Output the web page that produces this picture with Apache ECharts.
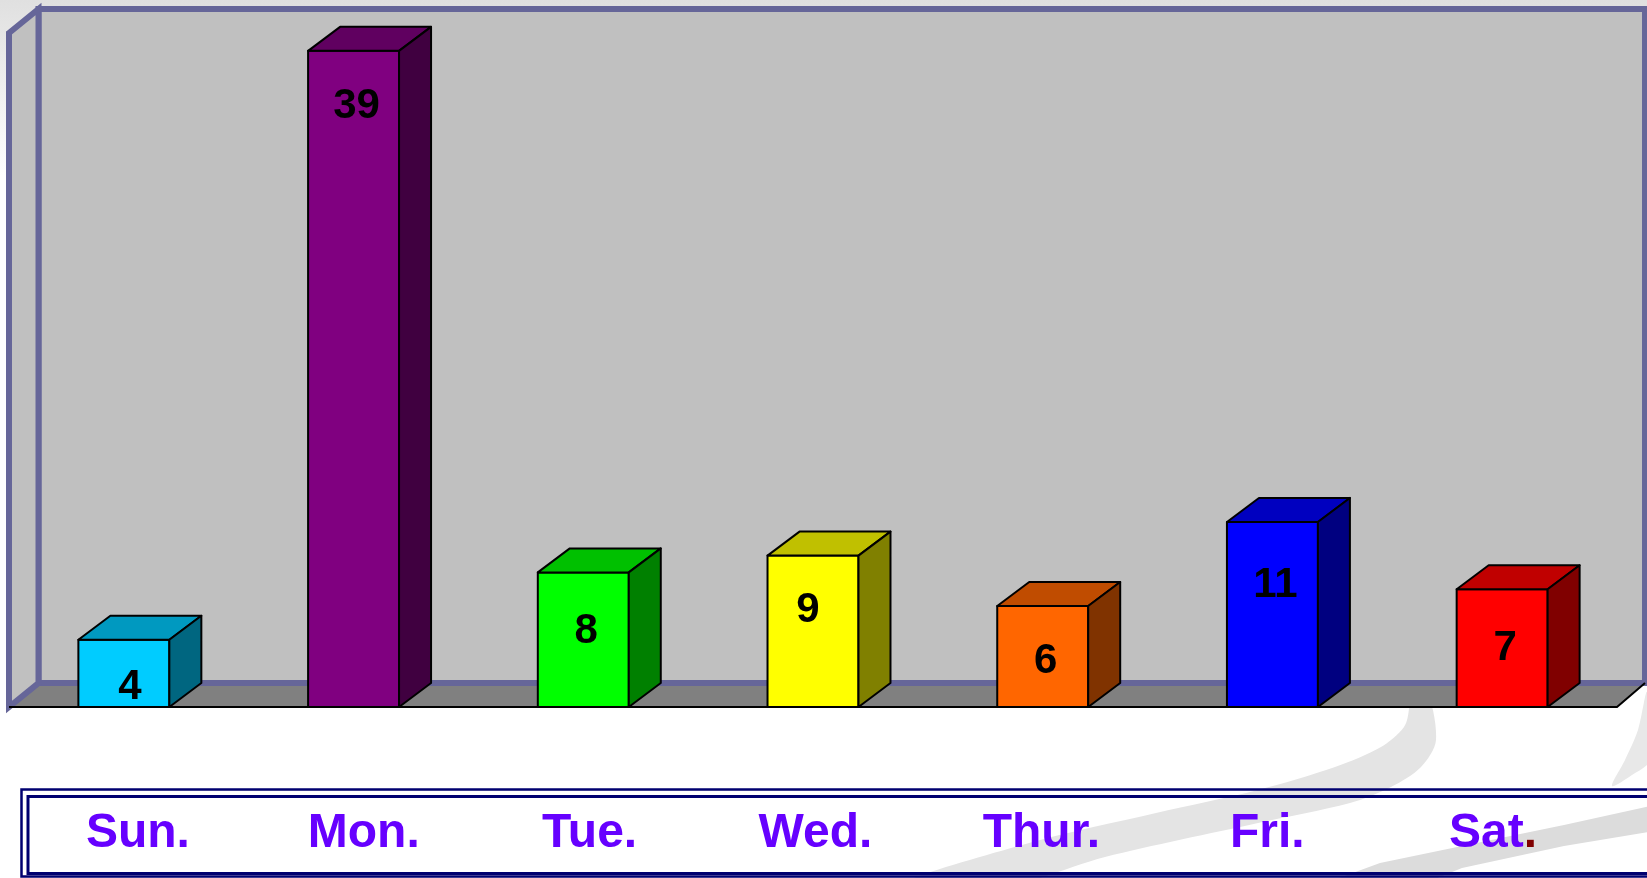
<!DOCTYPE html>
<html>
<head>
<meta charset="utf-8">
<title>week chart</title>
<script src="https://cdn.jsdelivr.net/npm/echarts@6/dist/echarts.min.js"></script>
<style>
  html, body { margin: 0; padding: 0; background: #fff; }
  #main { width: 1647px; height: 878px; }
</style>
</head>
<body>
<div id="main"></div>
<script>
// data
var days = ['Sun.', 'Mon.', 'Tue.', 'Wed.', 'Thur.', 'Fri.', 'Sat.'];
var counts = [4, 39, 8, 9, 6, 11, 7];
// bar face colours: front, top (darker), side (darkest)
var frontColors = ['#00CCFF', '#800080', '#00FF00', '#FFFF00', '#FF6600', '#0000FF', '#FF0000'];
var topColors = ['#0099C0', '#600060', '#00C000', '#C0C000', '#C04C00', '#0000C0', '#C00000'];
var sideColors = ['#006680', '#400040', '#008000', '#808000', '#803300', '#000080', '#800000'];
// where the number sits inside each bar (px below the top / px from centre)
var labelDrop = [48, 56, 59, 55, 55, 63, 59];
var labelShift = [6, 3, 3, -5, 3, 3, 3];

var chart = echarts.init(document.getElementById('main'));

var FONT = '"Liberation Sans", Arial, sans-serif';
var wallColor = '#666699';

// 3d bar: front + top + side face
function renderBar(params, api) {
  var i = api.value(0);
  var v = api.value(1);
  var base = api.coord([i, 0]);
  var top = api.coord([i, v]);
  var bw = api.size([1, 0])[0] * 0.396;
  var x0 = base[0] - bw / 2;
  var x1 = base[0] + bw / 2;
  var dx = 32, dy = -24;
  var line = { stroke: '#000', lineWidth: 2, lineJoin: 'round' };
  return {
    type: 'group',
    children: [
      {
        type: 'polygon',
        shape: { points: [[x0, top[1]], [x1, top[1]], [x1, base[1]], [x0, base[1]]] },
        style: Object.assign({ fill: frontColors[i] }, line)
      },
      {
        type: 'polygon',
        shape: { points: [[x0, top[1]], [x0 + dx, top[1] + dy], [x1 + dx, top[1] + dy], [x1, top[1]]] },
        style: Object.assign({ fill: topColors[i] }, line)
      },
      {
        type: 'polygon',
        shape: { points: [[x1, top[1]], [x1 + dx, top[1] + dy], [x1 + dx, base[1] + dy], [x1, base[1]]] },
        style: Object.assign({ fill: sideColors[i] }, line)
      },
      {
        type: 'text',
        x: base[0] + labelShift[i],
        y: top[1] + labelDrop[i],
        style: {
          text: String(v),
          fill: '#000',
          font: 'bold 42px ' + FONT,
          align: 'center',
          verticalAlign: 'middle'
        }
      }
    ]
  };
}

chart.setOption({
  animation: false,
  graphic: [
    // page background
    {
      type: 'rect', z: -100,
      shape: { x: 0, y: 0, width: 1647, height: 878 },
      style: {
        fill: {
          type: 'linear', x: 0, y: 0, x2: 0, y2: 1,
          colorStops: [{ offset: 0, color: '#e0e0e0' }, { offset: 0.2, color: '#ffffff' }]
        }
      }
    },
    // grey swooshes bottom right
    {
      type: 'polygon', z: -90,
      shape: {
        smooth: 0.3,
        points: [[1407, 690], [1409, 708], [1404, 727], [1381, 747], [1335, 767], [1258, 790], [1156, 813],
          [1029, 843], [900, 885], [1010, 885], [1105, 857], [1258, 823], [1350, 803], [1391, 787],
          [1421, 767], [1436, 740], [1426, 690]]
      },
      style: { fill: '#e4e4e4' }
    },
    {
      type: 'polygon', z: -90,
      shape: {
        points: [[1660, 804], [1564, 825], [1462, 846], [1380, 863], [1320, 885], [1420, 885],
          [1462, 868], [1564, 846], [1660, 830]]
      },
      style: { fill: '#dcdcdc' }
    },
    {
      type: 'polygon', z: -90,
      shape: {
        smooth: 0.3,
        points: [[1647, 692], [1638, 730], [1625, 760], [1612, 786], [1632, 775], [1650, 760]]
      },
      style: { fill: '#e8e8e8' }
    },
    // floor
    {
      type: 'polygon', z: -12,
      shape: { points: [[9, 707], [38.5, 683], [1645, 683], [1617, 707]] },
      style: { fill: '#808080' }
    },
    // back wall
    {
      type: 'rect', z: -11,
      shape: { x: 38.5, y: 9, width: 1606.5, height: 674 },
      style: { fill: '#C0C0C0', stroke: wallColor, lineWidth: 6 }
    },
    // left wall
    {
      type: 'polygon', z: -10,
      shape: { points: [[9, 33], [38.5, 9], [38.5, 683], [9, 707]] },
      style: { fill: '#C0C0C0', stroke: wallColor, lineWidth: 6, lineJoin: 'miter' }
    },
    // front edge of floor
    {
      type: 'polyline', z: -9,
      shape: { points: [[9, 707], [1617, 707], [1645, 683]] },
      style: { stroke: '#000', lineWidth: 2, fill: null }
    },
    // day label box (double line)
    {
      type: 'rect', z: -5,
      shape: { x: 21.5, y: 789.5, width: 1700, height: 87 },
      style: { fill: null, stroke: '#000070', lineWidth: 2.5 }
    },
    {
      type: 'rect', z: -5,
      shape: { x: 28, y: 796.5, width: 1700, height: 77 },
      style: { fill: null, stroke: '#000070', lineWidth: 3 }
    }
  ],
  grid: [
    { left: 9, top: 34, width: 1608, height: 673 },
    { left: 25, top: 800, width: 1581, height: 1 }
  ],
  xAxis: [
    {
      gridIndex: 0, type: 'category', data: days, show: false
    },
    {
      gridIndex: 1, type: 'category', data: days,
      axisLine: { show: false },
      axisTick: { show: false },
      splitLine: { show: false },
      axisLabel: {
        interval: 0,
        margin: 33,
        verticalAlign: 'middle',
        formatter: function (v) {
          if (v === 'Sat.') return '{a|Sat}{d|.}';
          return '{a|' + v + '}';
        },
        rich: {
          a: { color: '#6600FF', fontSize: 48, fontWeight: 'bold', fontFamily: FONT, lineHeight: 48 },
          d: { color: '#800000', fontSize: 48, fontWeight: 'bold', fontFamily: FONT, lineHeight: 48 }
        }
      }
    }
  ],
  yAxis: [
    { gridIndex: 0, type: 'value', min: 0, max: 40, show: false },
    { gridIndex: 1, type: 'value', show: false }
  ],
  series: [
    {
      type: 'custom',
      xAxisIndex: 0,
      yAxisIndex: 0,
      renderItem: renderBar,
      encode: { x: 0, y: 1 },
      data: counts.map(function (v, i) { return [i, v]; })
    }
  ]
});
</script>
</body>
</html>
